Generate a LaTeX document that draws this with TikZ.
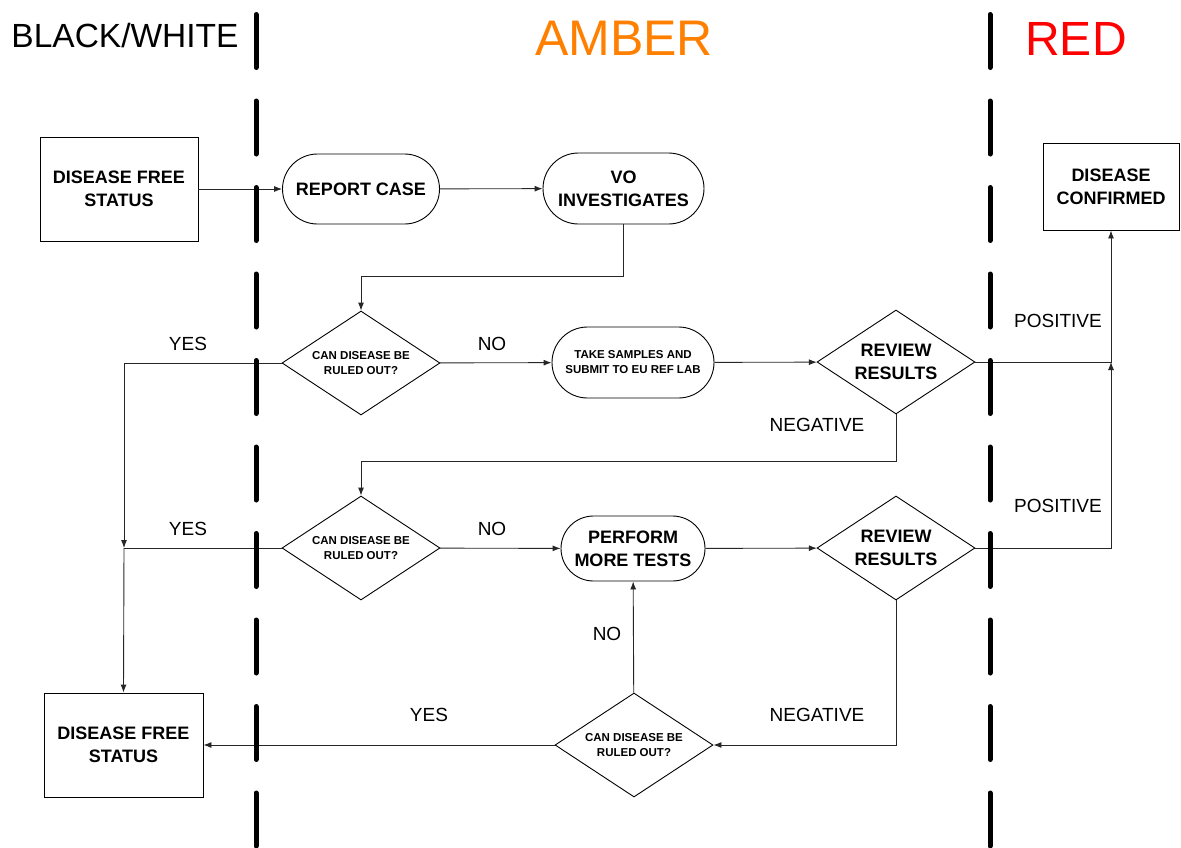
\documentclass[tikz,border=0pt]{standalone}
\usepackage{fontspec}
\setmainfont{Liberation Sans}
\usetikzlibrary{arrows.meta,shapes.geometric,shapes.misc}

\definecolor{amber}{RGB}{255,128,0}

\begin{document}
\begin{tikzpicture}[
  x = 1pt, y = -1pt,
  big/.style = {font = \bfseries\fontsize{18}{23}\selectfont, align = center},
  small/.style = {font = \bfseries\fontsize{11.5}{15}\selectfont, align = center},
  box/.style = {big, draw, line width = 0.9pt, rectangle, inner sep = 0pt},
  term/.style = {big, draw, line width = 0.9pt, rounded rectangle, inner sep = 0pt},
  decision/.style = {big, draw, line width = 0.9pt, diamond, aspect = 1.5, inner sep = 0pt,
                     minimum width = 158pt, minimum height = 104pt},
  lab/.style = {font = \fontsize{19}{22}\selectfont},
  title/.style = {anchor = base},
  link/.style = {draw = black!85, line width = 0.9pt, -{Latex[length = 8pt, width = 6pt]}},
  plain/.style = {draw = black!85, line width = 0.9pt},
  lane/.style = {line width = 5pt, line cap = round, dash pattern = on 53pt off 33.5pt},
  ]
  \useasboundingbox (0,0) rectangle (1181,847);

  \node[title, font = \fontsize{33.5}{38}\selectfont] (bw) at (125,47) {BLACK/WHITE};
  \node[title, font = \fontsize{50}{56}\selectfont, text = amber] (amber) at (624,55) {AMBER};
  \node[title, font = \fontsize{48}{54}\selectfont, text = red] (red) at (1076,55) {RED};

  \node[box, minimum width = 158pt, minimum height = 104pt] (dfs1) at (119,189) {DISEASE FREE\\STATUS};
  \node[term, minimum width = 157pt, minimum height = 70pt] (report) at (361,189) {REPORT CASE};
  \node[term, minimum width = 161pt, minimum height = 71pt] (vo) at (623.5,188.5) {VO\\INVESTIGATES};
  \node[box, minimum width = 136pt, minimum height = 87pt] (dc) at (1111,186.5) {DISEASE\\CONFIRMED};

  \node[decision, small] (q1) at (361,363) {CAN DISEASE BE\\RULED OUT?};
  \node[term, small, minimum width = 162pt, minimum height = 71pt] (take) at (633,362.5) {TAKE SAMPLES AND\\SUBMIT TO EU REF LAB};
  \node[decision] (rev1) at (896,362) {REVIEW\\RESULTS};

  \node[decision, small] (q2) at (361,548) {CAN DISEASE BE\\RULED OUT?};
  \node[term, minimum width = 144pt, minimum height = 65pt] (more) at (633,548.5) {PERFORM\\MORE TESTS};
  \node[decision] (rev2) at (896,548) {REVIEW\\RESULTS};

  \node[decision, small] (q3) at (634,745) {CAN DISEASE BE\\RULED OUT?};
  \node[box, minimum width = 159pt, minimum height = 104pt] (dfs2) at (123.5,745) {DISEASE FREE\\STATUS};

  \coordinate (j1) at (361,276);
  \coordinate (j2) at (361,461);
  \coordinate (j3) at (124,548);
  \coordinate (j4) at (1111,362);

  \draw[link] (dfs1) -- (report);
  \draw[link] (report) -- (vo);
  \draw[link] (vo.south) |- (j1) -- (q1.north);
  \draw[link] (q1) -- (take);
  \draw[link] (take) -- (rev1);
  \draw[link] (rev1.east) -| (dc.south);
  \draw[link] (rev1.south) |- (j2) -- (q2.north);
  \draw[link] (q1.west) -| (j3);
  \draw[plain] (q2.west) -- (j3);
  \draw[link] (j3) -- (dfs2.north);
  \draw[link] (q2) -- (more);
  \draw[link] (more) -- (rev2);
  \draw[link] (rev2.east) -| (j4);
  \draw[link] (rev2.south) |- (q3.east);
  \draw[link] (q3) -- (dfs2);
  \draw[link] (q3) -- (more);

  \node[lab] (yes1) at (188,344) {YES};
  \node[lab] (no1) at (492,344) {NO};
  \node[lab] (pos1) at (1058,321) {POSITIVE};
  \node[lab] (neg1) at (817,425) {NEGATIVE};
  \node[lab] (yes2) at (188,529) {YES};
  \node[lab] (no2) at (492,529) {NO};
  \node[lab] (pos2) at (1058,506) {POSITIVE};
  \node[lab] (neg2) at (817,715) {NEGATIVE};
  \node[lab] (yes3) at (429,715) {YES};
  \node[lab] (no3) at (607,634) {NO};

  \draw[lane] (256,14.5) -- (256,847);
  \draw[lane] (990,14.5) -- (990,847);
\end{tikzpicture}
\end{document}
